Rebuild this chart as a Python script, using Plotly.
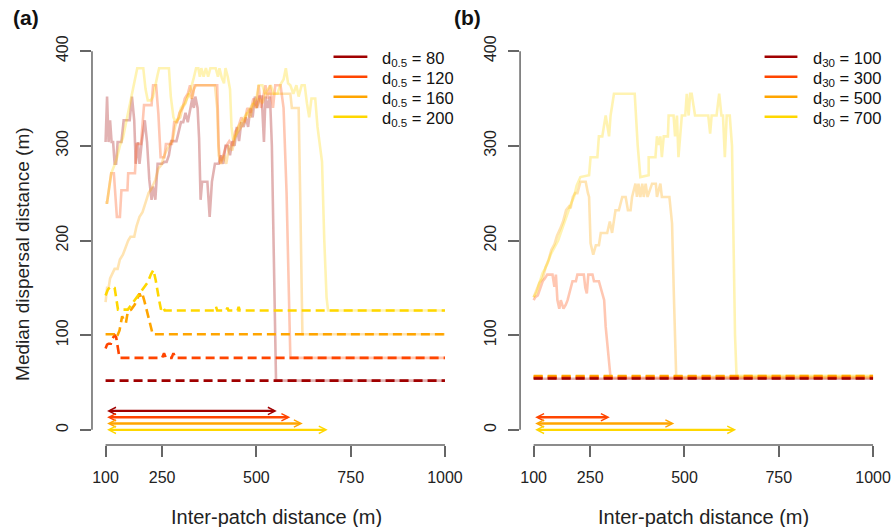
import plotly.graph_objects as go

# ---------------- data ----------------
colors = ['#A00000', '#FF4500', '#FFA500', '#FFD700']
x_ticks = [100, 250, 500, 750, 1000]
y_ticks = [0, 100, 200, 300, 400]
legend_a = ['d<sub>0.5</sub> = 80', 'd<sub>0.5</sub> = 120', 'd<sub>0.5</sub> = 160', 'd<sub>0.5</sub> = 200']
legend_b = ['d<sub>30</sub> = 100', 'd<sub>30</sub> = 300', 'd<sub>30</sub> = 500', 'd<sub>30</sub> = 700']

# panel (a) solid lines
a_dr_x = [100,104,108,112,116,120,124,128,132,142,148,164,170,176,180,186,190,196,204,210,216,222,226,232,238,250,256,262,268,274,282,288,294,300,306,312,318,324,330,334,338,344,348,352,356,370,376,382,390,400,406,412,418,424,430,436,442,448,454,460,466,472,478,484,490,496,502,508,514,520,524,530,536,541,546,552,1000]
a_dr_y = [304,352,304,327,304,304,281,281,304,304,327,327,352,327,281,304,281,304,327,304,264,243,257,243,281,281,283,283,290,305,305,305,315,325,325,335,325,340,350,340,352,340,308,243,262,262,225,262,281,281,290,281,300,300,290,305,300,320,305,325,320,330,320,340,330,352,340,352,352,304,352,340,352,300,180,52,52]
a_or_x = [100,104,110,115,122,126,130,138,142,158,160,178,182,194,198,202,222,226,234,240,246,256,260,276,282,290,296,304,310,318,324,330,336,396,400,404,412,420,428,436,444,452,460,468,476,484,492,500,506,512,518,524,530,536,544,550,564,572,580,586,590,1000]
a_or_y = [240,240,257,271,271,250,225,225,253,253,271,271,302,302,327,343,343,364,364,334,288,288,302,302,325,325,335,340,350,355,364,350,364,364,300,281,290,300,305,300,315,320,330,325,340,335,350,340,364,340,352,364,350,364,340,364,364,340,250,150,76,76]
a_og_x = [100,104,108,112,118,124,132,138,146,152,160,166,176,182,190,198,206,214,222,232,240,248,256,264,272,278,284,290,298,304,312,320,328,334,340,390,396,400,406,414,420,428,436,444,452,460,468,476,484,492,500,508,516,524,590,594,612,616,620,622,1000]
a_og_y = [135,150,150,160,165,170,170,180,185,192,200,204,204,215,225,230,239,250,255,264,276,280,290,297,302,306,320,327,330,340,345,355,350,360,364,364,340,290,281,290,281,300,295,310,315,320,325,335,330,345,340,350,345,355,355,340,340,250,150,101,101]
a_gd_x = [100,104,110,115,124,130,138,146,152,159,166,170,176,184,200,206,212,220,226,232,238,242,268,273,280,286,294,300,310,318,326,334,340,346,350,354,360,366,372,378,392,398,402,408,414,418,424,430,434,438,444,452,460,468,476,484,492,500,506,516,522,530,538,546,556,564,572,578,584,590,598,606,612,620,628,634,640,646,656,662,668,674,680,686,690,1000]
a_gd_y = [240,240,257,271,280,287,300,308,320,334,345,352,366,382,382,360,348,348,352,365,375,382,382,352,330,325,330,340,345,352,360,372,382,382,373,382,373,382,373,382,382,373,382,372,366,382,373,360,320,306,310,320,325,330,335,340,345,350,364,364,355,360,364,355,355,365,370,382,366,364,355,364,352,364,364,345,330,350,350,320,300,283,200,140,126,126]

# panel (a) dashed lines
a_dr_dash_x = [100, 1000]
a_dr_dash_y = [52, 52]
a_or_dash_x = [100,104,108,114,118,124,128,132,137,250,255,260,275,280,285,1000]
a_or_dash_y = [86,90,91,91,96,100,98,90,76,76,81,76,76,81,76,76]
a_og_dash_x = [100,124,128,132,137,144,150,154,159,168,177,185,190,194,198,203,208,214,220,225,1000]
a_og_dash_y = [101,101,98,100,105,120,115,113,125,127,132,139,144,140,143,136,128,116,106,101,101]
a_gd_dash_x = [100,106,112,118,124,128,133,159,168,177,185,194,203,212,220,227,233,238,242,247,252,257,390,393,396,420,423,426,450,453,456,1000]
a_gd_dash_y = [142,148,151,151,150,138,127,127,132,137,142,146,151,156,164,169,158,145,137,127,130,126,126,130,126,126,129,126,126,130,126,126]

# panel (b) solid lines
b_dr_x = [100, 1000]
b_dr_y = [54, 54]
b_or_x = [100,104,111,118,124,130,136,150,155,159,163,168,172,179,185,190,198,203,212,216,233,237,241,245,256,260,273,278,284,287,291,298,304,1000]
b_or_y = [137,140,142,150,157,160,164,164,151,164,137,128,137,128,132,137,148,157,157,164,164,150,144,164,164,157,157,150,140,137,109,80,55,55]
b_og_x = [100,108,115,124,132,140,147,155,162,170,178,186,194,198,204,210,216,224,238,244,247,251,258,265,273,278,295,302,308,317,326,335,344,350,357,361,370,374,378,383,388,392,397,402,414,424,427,436,440,460,467,472,478,1000]
b_og_y = [140,148,155,160,172,180,190,196,205,212,220,232,236,234,246,250,250,262,262,250,246,197,185,195,195,208,208,220,208,232,232,246,246,232,232,246,260,246,260,246,260,246,260,246,260,260,246,260,246,246,218,140,56,56]
b_gd_x = [100,108,115,124,130,137,145,155,165,172,181,188,194,200,207,214,224,247,251,269,273,282,291,296,300,304,313,368,376,383,405,405,423,427,432,436,440,445,456,458,471,475,480,484,493,502,506,511,515,519,528,563,568,572,585,592,598,602,607,612,620,626,630,634,638,1000]
b_gd_y = [140,145,155,166,170,176,185,193,200,208,218,225,234,240,246,258,267,269,288,288,310,310,332,320,310,332,355,355,300,267,269,288,288,310,301,310,288,310,310,332,332,310,332,288,332,332,355,332,355,355,332,332,313,332,332,355,332,332,288,332,332,300,200,100,57,57]

# panel (b) dashed lines (dark red, orange-red, orange, gold)
b_dash_x = [100, 1000]
b_dash_levels = [54.3, 55.0, 56.8, 56.3]

# arrows (range where the solid line exceeds the dashed line)
arrow_start = 100
a_arrow_end = [554, 590, 623, 689]
a_arrow_y = [20, 13.3, 6.7, 0]
b_arrow_end = [None, 302, 473, 637]
b_arrow_y = [None, 13.3, 6.7, 0]

# ---------------- figure ----------------
W, H = 896, 527
ML, MR, MT, MB = 0, 0, 36, 82
PW, PH = W - ML - MR, H - MT - MB
FONT = 'Liberation Sans, Arial, sans-serif'

def rgba(hexc, a):
    h = hexc.lstrip('#')
    r, g, b = int(h[0:2], 16), int(h[2:4], 16), int(h[4:6], 16)
    return f'rgba({r},{g},{b},{a})'

def px_x(p):
    return (p - ML) / PW

def px_y(p):
    return 1 - (p - MT) / PH

fig = go.Figure()

a_solid = [(a_dr_x, a_dr_y), (a_or_x, a_or_y), (a_og_x, a_og_y), (a_gd_x, a_gd_y)]
a_dash = [(a_dr_dash_x, a_dr_dash_y), (a_or_dash_x, a_or_dash_y),
          (a_og_dash_x, a_og_dash_y), (a_gd_dash_x, a_gd_dash_y)]
b_solid = [(b_dr_x, b_dr_y), (b_or_x, b_or_y), (b_og_x, b_og_y), (b_gd_x, b_gd_y)]

for (xs, ys), c, nm in zip(a_solid, colors, legend_a):
    fig.add_trace(go.Scatter(x=xs, y=ys, mode='lines', xaxis='x', yaxis='y',
                             line=dict(color=rgba(c, 0.3), width=2.6),
                             name=nm, showlegend=False, hoverinfo='skip'))
for (xs, ys), c in zip(a_dash, colors):
    fig.add_trace(go.Scatter(x=xs, y=ys, mode='lines', xaxis='x', yaxis='y',
                             line=dict(color=c, width=2.6, dash='9px,5px'),
                             showlegend=False, hoverinfo='skip'))

for (xs, ys), c, nm in zip(b_solid, colors, legend_b):
    fig.add_trace(go.Scatter(x=xs, y=ys, mode='lines', xaxis='x2', yaxis='y2',
                             line=dict(color=rgba(c, 0.3), width=2.6),
                             name=nm, showlegend=False, hoverinfo='skip'))
# overlapping dashed lines in (b): draw gold first so dark red / orange stay visible
for lev, c in reversed(list(zip(b_dash_levels, colors))):
    fig.add_trace(go.Scatter(x=b_dash_x, y=[lev] * len(b_dash_x), mode='lines',
                             xaxis='x2', yaxis='y2',
                             line=dict(color=c, width=2.6, dash='9px,5px'),
                             showlegend=False, hoverinfo='skip'))

annotations = []
shapes = []

def add_arrow(xe, yv, c, xr, yr):
    annotations.append(dict(x=xe, y=yv, ax=arrow_start, ay=yv, xref=xr, yref=yr,
                            axref=xr, ayref=yr, text='', showarrow=True,
                            arrowhead=5, startarrowhead=5, arrowside='end+start',
                            arrowsize=0.6, startarrowsize=0.6,
                            arrowwidth=2.4, arrowcolor=c))

for xe, yv, c in zip(a_arrow_end, a_arrow_y, colors):
    add_arrow(xe, yv, c, 'x', 'y')
for xe, yv, c in zip(b_arrow_end, b_arrow_y, colors):
    if xe is not None:
        add_arrow(xe, yv, c, 'x2', 'y2')

# legends (R-style, no box): key line + label, 20 px per row
LEG_ROW0, LEG_DY = 56.7, 20
for labels, x_line0, x_line1, x_text in [(legend_a, 335, 369, 382), (legend_b, 768, 801, 815)]:
    for i, (lab, c) in enumerate(zip(labels, colors)):
        yy = px_y(LEG_ROW0 + i * LEG_DY)
        shapes.append(dict(type='line', xref='paper', yref='paper',
                           x0=px_x(x_line0), x1=px_x(x_line1), y0=yy, y1=yy,
                           line=dict(color=c, width=2.6)))
        annotations.append(dict(text=lab, x=px_x(x_text), y=px_y(LEG_ROW0 + i * LEG_DY + 2.5),
                                xref='paper', yref='paper', xanchor='left', yanchor='middle',
                                showarrow=False,
                                font=dict(family=FONT, size=16.5, color='#111')))

dom_a = [92.4 / W, 460.6 / W]
dom_b = [522.4 / W, 890.6 / W]

# panel labels and axis titles
annotations += [
    dict(text='<b>(a)</b>', x=px_x(11), y=px_y(18), xref='paper', yref='paper',
         xanchor='left', yanchor='middle', showarrow=False,
         font=dict(family=FONT, size=21, color='#111')),
    dict(text='<b>(b)</b>', x=px_x(454), y=px_y(18), xref='paper', yref='paper',
         xanchor='left', yanchor='middle', showarrow=False,
         font=dict(family=FONT, size=21, color='#111')),
    dict(text='Median dispersal distance (m)', x=px_x(22), y=px_y(254),
         xref='paper', yref='paper', textangle=-90, showarrow=False,
         xanchor='center', yanchor='middle',
         font=dict(family=FONT, size=19, color='#222')),
    dict(text='Inter-patch distance (m)', x=px_x(278), y=px_y(517),
         xref='paper', yref='paper', showarrow=False,
         xanchor='center', yanchor='middle',
         font=dict(family=FONT, size=20, color='#222')),
    dict(text='Inter-patch distance (m)', x=px_x(707), y=px_y(517),
         xref='paper', yref='paper', showarrow=False,
         xanchor='center', yanchor='middle',
         font=dict(family=FONT, size=20, color='#222')),
]

# R-style detached axis lines
axcol = '#666666'
shapes += [
    dict(type='line', xref='x', yref='paper', x0=x_ticks[0], x1=x_ticks[-1], y0=0, y1=0,
         line=dict(color=axcol, width=1.5)),
    dict(type='line', xref='x2', yref='paper', x0=x_ticks[0], x1=x_ticks[-1], y0=0, y1=0,
         line=dict(color=axcol, width=1.5)),
    dict(type='line', xref='paper', yref='y', x0=dom_a[0], x1=dom_a[0], y0=y_ticks[0], y1=y_ticks[-1],
         line=dict(color=axcol, width=1.5)),
    dict(type='line', xref='paper', yref='y2', x0=dom_b[0], x1=dom_b[0], y0=y_ticks[0], y1=y_ticks[-1],
         line=dict(color=axcol, width=1.5)),
]

xaxis_common = dict(range=[64, 1036], tickvals=x_ticks, ticktext=[str(v) for v in x_ticks],
                    ticks='outside', ticklen=11, tickwidth=1.5, tickcolor=axcol,
                    showline=False, showgrid=False, zeroline=False,
                    tickfont=dict(family=FONT, size=16, color='#222'),
                    ticklabelstandoff=7, fixedrange=True)
yaxis_common = dict(range=[-16, 416], tickvals=y_ticks, ticktext=[str(v) for v in y_ticks],
                    ticks='outside', ticklen=11, tickwidth=1.5, tickcolor=axcol,
                    showline=False, showgrid=False, zeroline=False, tickangle=-90,
                    tickfont=dict(family=FONT, size=16, color='#222'),
                    ticklabelstandoff=6, domain=[0, 1], fixedrange=True)

fig.update_layout(
    width=W, height=H,
    margin=dict(l=ML, r=MR, t=MT, b=MB),
    paper_bgcolor='white', plot_bgcolor='white',
    xaxis=dict(domain=dom_a, anchor='y', **xaxis_common),
    yaxis=dict(anchor='x', **yaxis_common),
    xaxis2=dict(domain=dom_b, anchor='y2', **xaxis_common),
    yaxis2=dict(anchor='x2', **yaxis_common),
    annotations=annotations,
    shapes=shapes,
    showlegend=False,
)

fig.write_html('out.html')
